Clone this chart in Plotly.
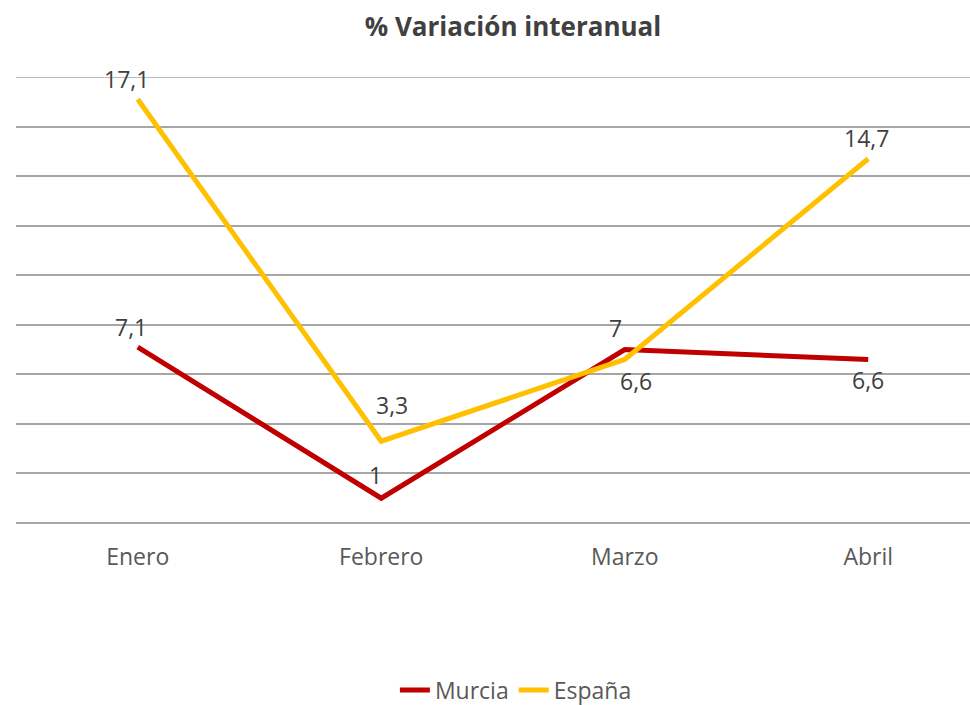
import plotly.graph_objects as go

months = ["Enero", "Febrero", "Marzo", "Abril"]
murcia = [7.1, 1, 7, 6.6]
espana = [17.1, 3.3, 6.6, 14.7]

# label offsets in pixels (style only), one per point
murcia_shift = [(-7, 20), (-6, 23), (-9, 22), (0, -21)]
espana_shift = [(-11, 20), (11, 36), (11, -22), (-2, 21)]

def fmt(v):
    return ("%g" % v).replace(".", ",")

FONT = "Open Sans"
fig = go.Figure()
annotations = []
for name, vals, shifts, color in [("Murcia", murcia, murcia_shift, "#C00000"),
                                   ("España", espana, espana_shift, "#FFC000")]:
    xs = list(range(len(months)))
    fig.add_trace(go.Scatter(
        x=xs, y=vals, name=name, mode="lines",
        line=dict(color=color, width=5),
        hoverinfo="skip",
    ))
    for xi, v, (dx, dy) in zip(xs, vals, shifts):
        annotations.append(dict(
            x=xi, y=v, xref="x", yref="y", text=fmt(v), showarrow=False,
            xshift=dx, yshift=dy, xanchor="center", yanchor="middle",
            font=dict(family=FONT, size=23, color="#404040"),
        ))

fig.update_layout(
    width=970, height=705,
    paper_bgcolor="white", plot_bgcolor="white",
    margin=dict(l=16, r=0, t=77, b=182, autoexpand=False),
    title=dict(text="<b>% Variación interanual</b>", x=513 / 970, xanchor="center",
               y=1 - 27 / 705, yanchor="middle",
               font=dict(family=FONT, size=26, color="#404040")),
    xaxis=dict(range=[-0.5, 3.418], tickvals=list(range(len(months))), ticktext=months,
               showgrid=False, zeroline=False, showline=False, ticks="",
               ticklabelstandoff=18, automargin=False,
               tickfont=dict(family=FONT, size=23, color="#595959")),
    yaxis=dict(range=[0, 18], dtick=2, showticklabels=False, showgrid=True,
               gridcolor="#A6A6A6", gridwidth=1.5, zeroline=True,
               zerolinecolor="#A6A6A6", zerolinewidth=1.5, showline=False,
               automargin=False),
    legend=dict(orientation="h", x=0.524, xanchor="center", y=-(690 - 523) / 446,
                yanchor="middle", font=dict(family=FONT, size=23, color="#595959"),
                itemwidth=30, tracegroupgap=0),
    showlegend=True,
    annotations=annotations,
)
fig.add_shape(type="line", xref="paper", yref="y", x0=0, x1=1, y0=18, y1=18,
              line=dict(color="#A6A6A6", width=1.5), layer="below")
fig.write_html("out.html", config={"displayModeBar": False},
               post_script="document.body.style.margin='0';"
                           "document.body.style.overflow='hidden';")
